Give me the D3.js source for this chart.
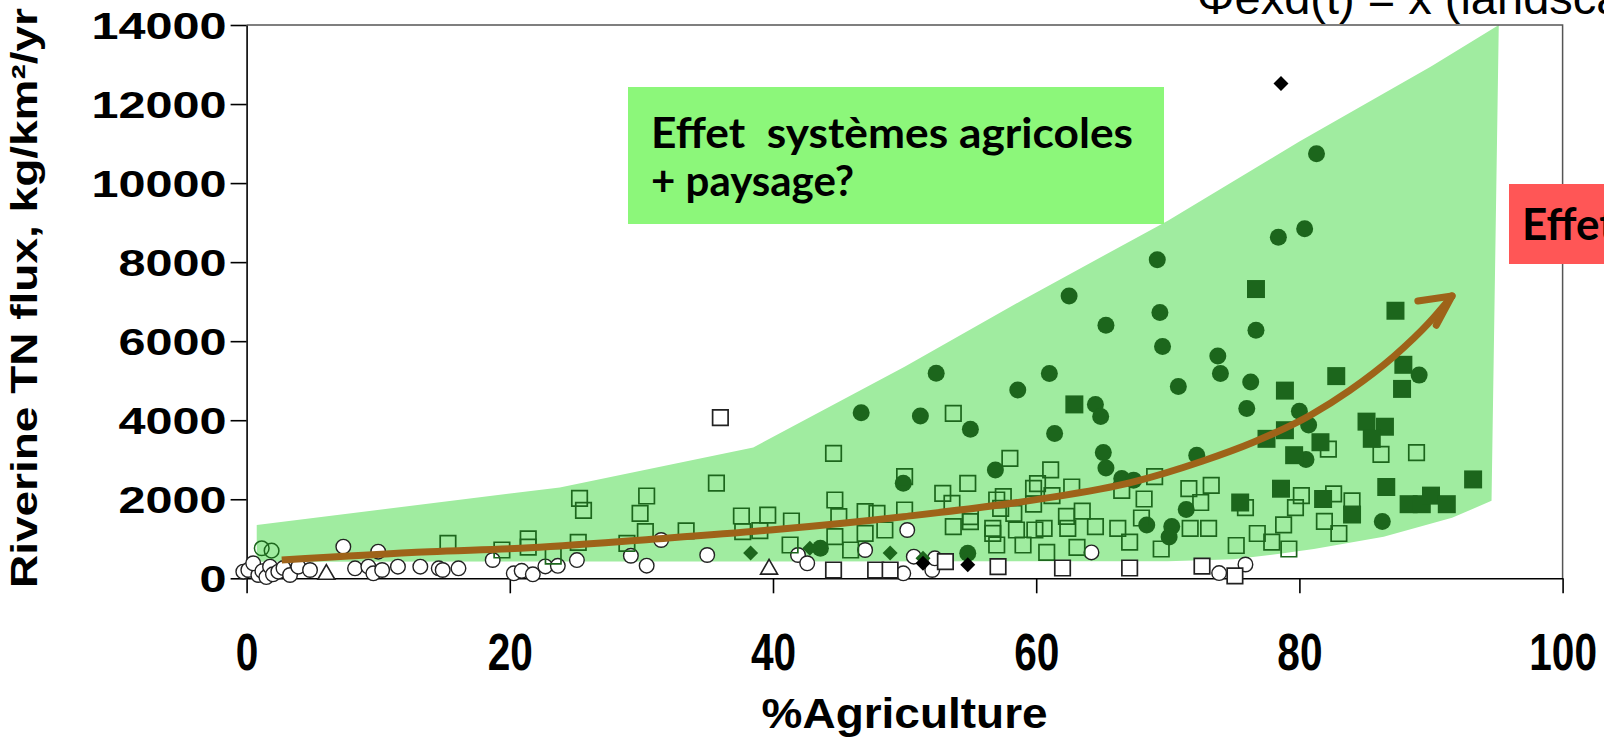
<!DOCTYPE html>
<html><head><meta charset="utf-8">
<script src="https://cdn.jsdelivr.net/npm/d3@7"></script>
<style>body{margin:0;background:#fff;overflow:hidden} svg{display:block}</style>
</head><body>
<svg id="c" width="1604" height="743"></svg>
<script>
// ---------- data ----------
const xTicks = [0, 20, 40, 60, 80, 100];
const yTicks = [0, 2000, 4000, 6000, 8000, 10000, 12000, 14000];
const xLabel = "%Agriculture";
const yLabel = "Riverine TN flux, kg/km²/yr";

// open circles, black outline
const openCircles = [[-0.25,168],[0.13,210],[0.89,83],[0.5,380],[1.2,180],[1.5,30],[1.78,295],[2.0,100],[2.41,168],[2.8,260],
  [3.30,83],[3.93,295],[4.82,210],[7.35,800],[8.24,253],[9.25,295],[9.63,126],[10.0,673],[10.3,210],[11.5,295],
  [13.2,295],[14.6,253],[14.9,210],[16.1,253],[18.7,463],[20.3,126],[20.9,190],[21.75,100],[22.7,300],[23.65,315],
  [25.1,460],[29.2,570],[30.4,320],[31.5,969],[35.0,590],[41.9,590],[42.6,380],[47.0,716],[50.2,1222],[49.9,126],
  [50.7,547],[52.1,210],[52.3,506],[64.2,655],[73.9,132],[75.9,349]];
// open circles, green outline
const greenOpenCircles = [[1.15,760],[1.9,700]];
// open squares, green outline
const greenOpenSquares = [[15.3,885],[19.4,716],[21.4,1000],[21.4,790],[23.3,560],[25.2,910],[25.3,2024],[25.6,1720],
  [28.9,885],[29.9,1644],[30.4,2082],[30.3,1180],[33.4,1200],[35.7,2410],[37.6,1576],[37.7,1180],[39.6,1601],[39.0,1205],
  [41.4,1450],[41.3,842],[44.6,3162],[44.7,1981],[45.0,1560],[44.7,1053],[45.9,716],[47.0,1686],[47.9,1644],[47.0,1139],
  [48.5,1222],[50.0,2571],[50.0,1728],[53.7,4175],[54.8,2403],[52.9,2150],[53.7,1305],[55.0,1433],[58.0,3036],[57.0,1981],
  [56.7,1265],[58.3,1644],[59.8,2277],[59.0,842],[57.0,842],[53.6,1897],[55.0,1559],[57.5,2065],[57.3,1771],[58.5,1222],
  [56.7,1139],[59.9,1222],[61.1,2745],[60.1,2396],[62.7,2310],[61.2,2092],[59.8,1875],[63.5,1700],[62.3,1569],[60.6,1265],
  [62.4,1265],[64.5,1308],[66.2,1265],[66.5,2224],[68.2,2006],[69.0,2571],[67.1,916],[68.0,1526],[60.8,655],[63.1,784],
  [69.5,741],[71.6,2267],[73.3,2353],[72.5,1918],[73.1,1265],[71.7,1265],[75.9,1786],[75.2,830],[76.8,1133],[77.9,916],
  [79.2,741],[79.7,1786],[80.15,2090],[82.2,3269],[86.2,3137],[88.9,3180],[82.6,2135],[84.0,1961],[81.9,1440],[83.0,1133],
  [78.8,1351]];
// open squares, black outline
const blackOpenSquares = [[36.0,4064],[44.6,210],[47.8,210],[48.9,210],[53.1,420],[57.1,295],[62.0,261],[67.1,261],[72.6,306],[75.1,60]];
// filled green circles
const filledCircles = [[46.7,4191],[51.2,4106],[52.4,5186],[55.0,3770],[58.6,4764],[56.9,2740],[49.9,2403],[43.6,760],[54.8,632],
  [62.5,7145],[69.2,8061],[78.4,8627],[65.3,6404],[69.4,6727],[69.6,5864],[76.7,6274],[73.8,5622],[74.0,5184],[76.3,4966],
  [61.0,5184],[70.8,4855],[76.0,4296],[64.5,4400],[64.9,4096],[61.4,3661],[65.1,3180],[65.3,2790],[72.2,3112],[66.5,2527],
  [67.4,2484],[71.4,1743],[70.3,1308],[70.1,1045],[68.4,1351],[81.3,10742],[80.4,8845],[89.1,5141],[80.0,4228],[80.7,3878],
  [80.5,3006],[86.3,1440]];
// filled green squares
const filledSquares = [[76.7,7319],[62.9,4400],[78.9,4749],[77.5,3529],[78.9,3747],[79.6,3115],[78.6,2267],[75.5,1918],
  [87.3,6770],[87.9,5402],[87.8,4792],[82.8,5116],[85.1,3964],[86.5,3835],[85.5,3529],[81.6,3443],[86.6,2310],[93.2,2502],
  [88.3,1875],[89.3,1875],[90.0,2092],[91.2,1875],[81.8,2006],[84.0,1614]];
const greenDiamonds = [[38.3,640],[42.8,760],[48.9,640],[51.4,506]];
const blackDiamonds = [[78.6,12520],[54.8,340],[51.4,380]];
const triangles = [[6.06,100],[39.7,230]];

// shaded envelope (data units)
const band = [[0.77,1350],[23.8,2300],[38.5,3310],[50,5350],[59,7050],[70,9050],[80,11050],[90,12950],[95.15,14000],
  [94.6,1960],[91.6,1530],[86.4,1050],[81.1,740],[78.5,620],[75,480],[70,430],[0.77,420]];
// trend arrow (data units)
const arrow = [[2.67,463],[13.9,673],[20.8,760],[30.8,990],[39.8,1222],[49.9,1559],[60.0,1990],[67.4,2441],[72.6,2962],
  [76.5,3443],[80.9,4139],[83.8,4749],[87.2,5622],[89.8,6449],[91.6,7145]];
const arrowWings = [[89.0,7016],[90.4,6403]];

// ---------- chart ----------
const svg = d3.select('#c');
const x = d3.scaleLinear().domain([0,100]).range([246.6,1562.6]);
const y = d3.scaleLinear().domain([0,14000]).range([578.3,25]);
const GREEN = '#1c661c';
const FONT = 'Liberation Sans, Arial, sans-serif';

// envelope
svg.append('path').datum(band)
  .attr('d', d3.line().x(d=>x(d[0])).y(d=>y(d[1])).curve(d3.curveLinearClosed))
  .attr('fill','#a0eca0');

// frame (top, right)
svg.append('path')
  .attr('d', `M${x(0)},${y(14000)}H${x(100)}V${y(0)}`)
  .attr('fill','none').attr('stroke','#555').attr('stroke-width',1.5);

// axes
const gx = svg.append('g').attr('transform',`translate(0,${y(0)})`)
  .call(d3.axisBottom(x).tickValues(xTicks).tickSize(15).tickSizeOuter(0).tickFormat(d3.format('d')));
gx.select('.domain').attr('stroke','#000').attr('stroke-width',1.6);
gx.selectAll('.tick line').attr('stroke','#000').attr('stroke-width',1.6);
gx.selectAll('.tick text').attr('y',92).attr('dy',0)
  .attr('font-size',52).attr('font-weight','bold').attr('font-family',FONT).attr('fill','#000')
  .attr('transform','scale(0.78,1)');

const gy = svg.append('g').attr('transform',`translate(${x(0)},0)`)
  .call(d3.axisLeft(y).tickValues(yTicks).tickSize(16).tickSizeOuter(0).tickFormat(d3.format('d')));
gy.select('.domain').attr('stroke','#000').attr('stroke-width',1.6);
gy.selectAll('.tick line').attr('stroke','#000').attr('stroke-width',1.6);
gy.selectAll('.tick text').attr('x',-20).attr('dy','0.36em')
  .attr('font-size',37).attr('font-weight','bold').attr('font-family',FONT).attr('fill','#000')
  .each(function(d){ d3.select(this).attr('textLength', String(d).length*27).attr('lengthAdjust','spacingAndGlyphs'); });

// axis titles
svg.append('text').attr('x',(x(0)+x(100))/2).attr('y',728).attr('text-anchor','middle')
  .attr('font-size',42).attr('font-weight','bold').attr('font-family',FONT)
  .attr('textLength',286).attr('lengthAdjust','spacingAndGlyphs').text(xLabel);
svg.append('text').attr('transform','translate(37,298) rotate(-90)').attr('text-anchor','middle')
  .attr('font-size',36).attr('font-weight','bold').attr('font-family',FONT)
  .attr('textLength',580).attr('lengthAdjust','spacingAndGlyphs').text(yLabel);

// ---------- markers ----------
const px = d => x(d[0]), py = d => y(d[1]);
const sym = (type, size) => d3.symbol().type(type).size(size)();

svg.append('g').selectAll('circle').data(openCircles).join('circle')
  .attr('cx',px).attr('cy',py).attr('r',7.3).attr('fill','#fff').attr('stroke','#222').attr('stroke-width',1.4);
svg.append('g').selectAll('circle').data(greenOpenCircles).join('circle')
  .attr('cx',px).attr('cy',py).attr('r',7.3).attr('fill','none').attr('stroke',GREEN).attr('stroke-width',1.5);
svg.append('g').selectAll('path').data(filledCircles).join('path')
  .attr('d', sym(d3.symbolCircle, Math.PI*8.5*8.5))
  .attr('transform', d=>`translate(${px(d)},${py(d)})`).attr('fill',GREEN);
svg.append('g').selectAll('path').data(greenOpenSquares).join('path')
  .attr('d', sym(d3.symbolSquare, 15.5*15.5))
  .attr('transform', d=>`translate(${px(d)},${py(d)})`).attr('fill','none').attr('stroke',GREEN).attr('stroke-width',1.7);
svg.append('g').selectAll('path').data(blackOpenSquares).join('path')
  .attr('d', sym(d3.symbolSquare, 15.5*15.5))
  .attr('transform', d=>`translate(${px(d)},${py(d)})`).attr('fill','#fff').attr('stroke','#222').attr('stroke-width',1.7);
svg.append('g').selectAll('path').data(filledSquares).join('path')
  .attr('d', sym(d3.symbolSquare, 18*18))
  .attr('transform', d=>`translate(${px(d)},${py(d)})`).attr('fill',GREEN);
svg.append('g').selectAll('path').data(greenDiamonds).join('path')
  .attr('d', sym(d3.symbolSquare, 10.6*10.6))
  .attr('transform', d=>`translate(${px(d)},${py(d)}) rotate(45)`).attr('fill',GREEN);
svg.append('g').selectAll('path').data(blackDiamonds).join('path')
  .attr('d', sym(d3.symbolSquare, 10.6*10.6))
  .attr('transform', d=>`translate(${px(d)},${py(d)}) rotate(45)`).attr('fill','#000');
svg.append('g').selectAll('path').data(triangles).join('path')
  .attr('d', sym(d3.symbolTriangle, 125))
  .attr('transform', d=>`translate(${px(d)},${py(d)})`).attr('fill','#fff').attr('stroke','#222').attr('stroke-width',1.6);

// ---------- trend arrow ----------
const ARROW = '#9e6319';
svg.append('path').datum(arrow)
  .attr('d', d3.line().x(px).y(py).curve(d3.curveMonotoneX))
  .attr('fill','none').attr('stroke',ARROW).attr('stroke-width',7).attr('stroke-linecap','butt').attr('stroke-linejoin','round');
const tip = arrow[arrow.length-1];
svg.append('g').selectAll('path').data(arrowWings).join('path')
  .attr('d', d => `M${px(d)},${py(d)}L${px(tip)},${py(tip)}`)
  .attr('fill','none').attr('stroke',ARROW).attr('stroke-width',7).attr('stroke-linecap','round').attr('stroke-linejoin','round');

// ---------- annotations ----------
svg.append('rect').attr('x',628).attr('y',87).attr('width',536).attr('height',137).attr('fill','#8cf77a');
const ann = svg.append('text').attr('font-family','Lato, Liberation Sans, sans-serif').attr('font-weight','bold')
  .attr('font-size',42).attr('fill','#000').style('white-space','pre');
ann.append('tspan').attr('x',651).attr('y',148).attr('textLength',482).attr('lengthAdjust','spacingAndGlyphs').text('Effet  systèmes agricoles');
ann.append('tspan').attr('x',651).attr('y',196).text('+ paysage?');

svg.append('rect').attr('x',1509).attr('y',184).attr('width',100).attr('height',80).attr('fill','#ff5656');
svg.append('text').attr('x',1522).attr('y',240).attr('font-family','Lato, Liberation Sans, sans-serif')
  .attr('font-weight','bold').attr('font-size',44).attr('fill','#000').text('Effet');

svg.append('text').attr('x',1197).attr('y',14).attr('font-family',FONT)
  .attr('font-size',47).attr('fill','#000').text('Φexd(t) = x (landscape)');
</script>
</body></html>
